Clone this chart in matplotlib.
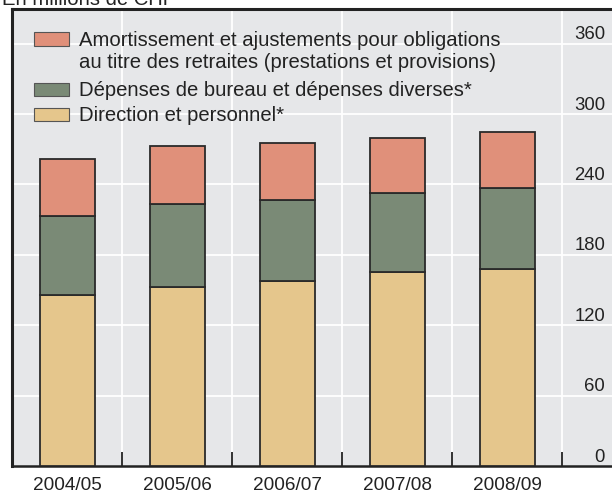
import matplotlib
matplotlib.use('Agg')
import matplotlib.pyplot as plt
from matplotlib.patches import Rectangle
from matplotlib.transforms import offset_copy

plt.rcParams['font.family'] = ['Liberation Sans', 'DejaVu Sans']

# values in millions of CHF
years = ['2004/05', '2005/06', '2006/07', '2007/08', '2008/09']
direction = [146, 152.5, 158, 165, 168]
bureau = [67, 70.5, 68.5, 67.5, 69]
amortissement = [49, 50, 48.5, 47, 48]

labels = [['Amortissement et ajustements pour obligations',
           'au titre des retraites (prestations et provisions)'],
          ['Dépenses de bureau et dépenses diverses*'],
          ['Direction et personnel*']]
colors = ['#e0907a', '#7a8a76', '#e5c68c']
yticks = [0, 60, 120, 180, 240, 300, 360]

W, H = 612, 494
fig = plt.figure(figsize=(W / 100, H / 100), dpi=100)
fig.patch.set_facecolor('white')

# axes run past the right edge of the figure
ax = fig.add_axes([12 / W, 28 / H, 605 / W, 457 / H])
ax.set_facecolor('#e6e7e9')
ax.set_xlim(-0.5, 5.0)
ax.set_ylim(0, 389.5)

x = range(len(years))
edge = dict(edgecolor='#2a2a2a', linewidth=1.3, width=0.5, zorder=3)
ax.bar(x, direction, color=colors[2], **edge)
ax.bar(x, bureau, bottom=direction, color=colors[1], **edge)
base2 = [a + b for a, b in zip(direction, bureau)]
ax.bar(x, amortissement, bottom=base2, color=colors[0], **edge)

# grid
ax.set_yticks(yticks[1:])
ax.set_xticks(list(x))
ax.set_xticks([i + 0.5 for i in x], minor=True)
ax.set_xticklabels(years, fontsize=13.7, color='#222222')
ax.tick_params(axis='x', which='major', length=0, pad=8)
ax.tick_params(axis='x', which='minor', direction='in', length=10, width=1.3, color='#222222')
ax.tick_params(axis='y', length=0, labelleft=False)
ax.xaxis.grid(True, which='minor', color='white', linewidth=1.3, zorder=1)
ax.yaxis.grid(True, which='major', color='white', linewidth=1.3, zorder=1)
ax.set_axisbelow(True)

for side in ['left', 'top', 'bottom']:
    ax.spines[side].set_color('#222222')
ax.spines['left'].set_linewidth(2.2)
ax.spines['top'].set_linewidth(2.2)
ax.spines['bottom'].set_linewidth(1.8)
ax.spines['right'].set_visible(False)

# value labels sit just above each gridline
trans = offset_copy(ax.get_yaxis_transform(), fig=fig, x=0, y=4.5, units='dots')
for v in yticks:
    ax.text(593 / 605, v, str(v), transform=trans, ha='right', va='baseline',
            fontsize=13.3, color='#222222')

# legend
def px(xp, yp):
    return xp / W, 1 - yp / H

boxes = [(32.5, 46), (83.5, 96.5), (108, 121)]
baselines = [[46, 68.5], [96.5], [121]]
for (top, bot), lines, bl, col in zip(boxes, labels, baselines, colors):
    x0, y0 = px(34, bot)
    fig.patches.append(Rectangle((x0, y0), 35 / W, (bot - top) / H, transform=fig.transFigure,
                                 facecolor=col, edgecolor='#555555', linewidth=0.8, zorder=5))
    for line, b in zip(lines, bl):
        tx, ty = px(79, b)
        fig.text(tx, ty, line, ha='left', va='baseline', fontsize=14.6, color='#222222',
                 zorder=6)

# unit caption, partly above the top edge
fig.text(2 / W, 1 - 5 / H, 'En millions de CHF', ha='left', va='baseline',
         fontsize=14.6, color='#222222')

fig.savefig('out.png', dpi=100)
